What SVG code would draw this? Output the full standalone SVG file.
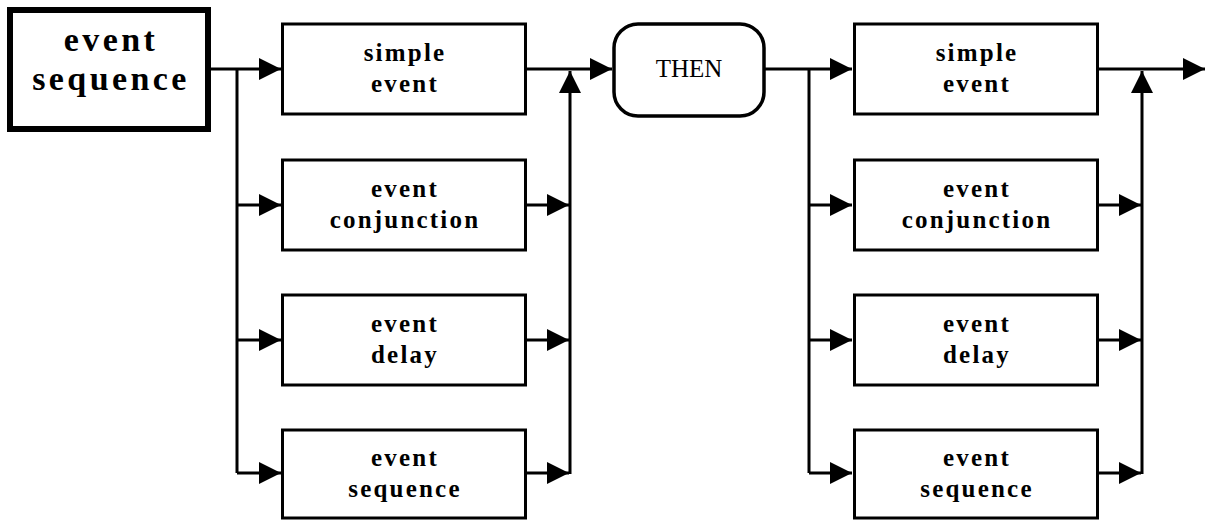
<svg xmlns="http://www.w3.org/2000/svg" width="1207" height="521" viewBox="0 0 1207 521">
<style>
.box{fill:#fff;stroke:#000;stroke-width:3}
.main{fill:#fff;stroke:#000;stroke-width:6}
.then{fill:#fff;stroke:#000;stroke-width:3.5}
.lbl{font-family:"Liberation Serif","Times New Roman",serif;font-weight:bold;font-size:25px;letter-spacing:2.2px;text-anchor:middle;fill:#000}
.big{font-family:"Liberation Serif","Times New Roman",serif;font-weight:bold;font-size:34px;letter-spacing:3.4px;text-anchor:middle;fill:#000}
.thn{font-family:"Liberation Serif","Times New Roman",serif;font-size:25px;text-anchor:middle;fill:#000}
.ln{fill:none;stroke:#000;stroke-width:3}
</style>
<defs>
<marker id="ah" markerUnits="userSpaceOnUse" markerWidth="24" markerHeight="23" refX="22" refY="11" orient="auto" viewBox="0 0 24 23">
<path d="M0,0 L22,11 L0,22 Z" fill="#000"/>
</marker>
</defs>
<rect width="1207" height="521" fill="#fff"/>
<g id="connectors">
<path class="ln" d="M211,69 H281" marker-end="url(#ah)"/>
<path class="ln" d="M237,69 V473"/>
<path class="ln" d="M237,205 H281" marker-end="url(#ah)"/>
<path class="ln" d="M237,340 H281" marker-end="url(#ah)"/>
<path class="ln" d="M237,473 H281" marker-end="url(#ah)"/>
<path class="ln" d="M527,205 H569" marker-end="url(#ah)"/>
<path class="ln" d="M527,340 H569" marker-end="url(#ah)"/>
<path class="ln" d="M527,473 H569" marker-end="url(#ah)"/>
<path class="ln" d="M570,474 V71" marker-end="url(#ah)"/>
<path class="ln" d="M527,69 H612" marker-end="url(#ah)"/>
<path class="ln" d="M765,69 H852" marker-end="url(#ah)"/>
<path class="ln" d="M809,69 V473"/>
<path class="ln" d="M809,205 H852" marker-end="url(#ah)"/>
<path class="ln" d="M809,340 H852" marker-end="url(#ah)"/>
<path class="ln" d="M809,473 H852" marker-end="url(#ah)"/>
<path class="ln" d="M1098,205 H1141" marker-end="url(#ah)"/>
<path class="ln" d="M1098,340 H1141" marker-end="url(#ah)"/>
<path class="ln" d="M1098,473 H1141" marker-end="url(#ah)"/>
<path class="ln" d="M1142,474 V71" marker-end="url(#ah)"/>
<path class="ln" d="M1098,69 H1205" marker-end="url(#ah)"/>
</g>
<g id="n-main">
<rect class="main" x="10" y="10" width="198" height="119"/>
<text class="big" x="111" y="51">event</text>
<text class="big" x="111" y="90">sequence</text>
</g>
<g id="n-l1">
<rect class="box" x="282.5" y="24" width="243" height="90"/>
<text class="lbl" x="405" y="61">simple</text>
<text class="lbl" x="405" y="92">event</text>
</g>
<g id="n-l2">
<rect class="box" x="282.5" y="160" width="243" height="90"/>
<text class="lbl" x="405" y="197">event</text>
<text class="lbl" x="405" y="228">conjunction</text>
</g>
<g id="n-l3">
<rect class="box" x="282.5" y="295" width="243" height="90"/>
<text class="lbl" x="405" y="332">event</text>
<text class="lbl" x="405" y="363">delay</text>
</g>
<g id="n-l4">
<rect class="box" x="282.5" y="430" width="243" height="88"/>
<text class="lbl" x="405" y="466">event</text>
<text class="lbl" x="405" y="497">sequence</text>
</g>
<g id="n-then">
<rect class="then" x="614" y="24" width="150" height="92" rx="24" ry="24"/>
<text class="thn" x="689" y="77">THEN</text>
</g>
<g id="n-r1">
<rect class="box" x="854.5" y="24" width="243" height="90"/>
<text class="lbl" x="977" y="61">simple</text>
<text class="lbl" x="977" y="92">event</text>
</g>
<g id="n-r2">
<rect class="box" x="854.5" y="160" width="243" height="90"/>
<text class="lbl" x="977" y="197">event</text>
<text class="lbl" x="977" y="228">conjunction</text>
</g>
<g id="n-r3">
<rect class="box" x="854.5" y="295" width="243" height="90"/>
<text class="lbl" x="977" y="332">event</text>
<text class="lbl" x="977" y="363">delay</text>
</g>
<g id="n-r4">
<rect class="box" x="854.5" y="430" width="243" height="88"/>
<text class="lbl" x="977" y="466">event</text>
<text class="lbl" x="977" y="497">sequence</text>
</g>
</svg>
